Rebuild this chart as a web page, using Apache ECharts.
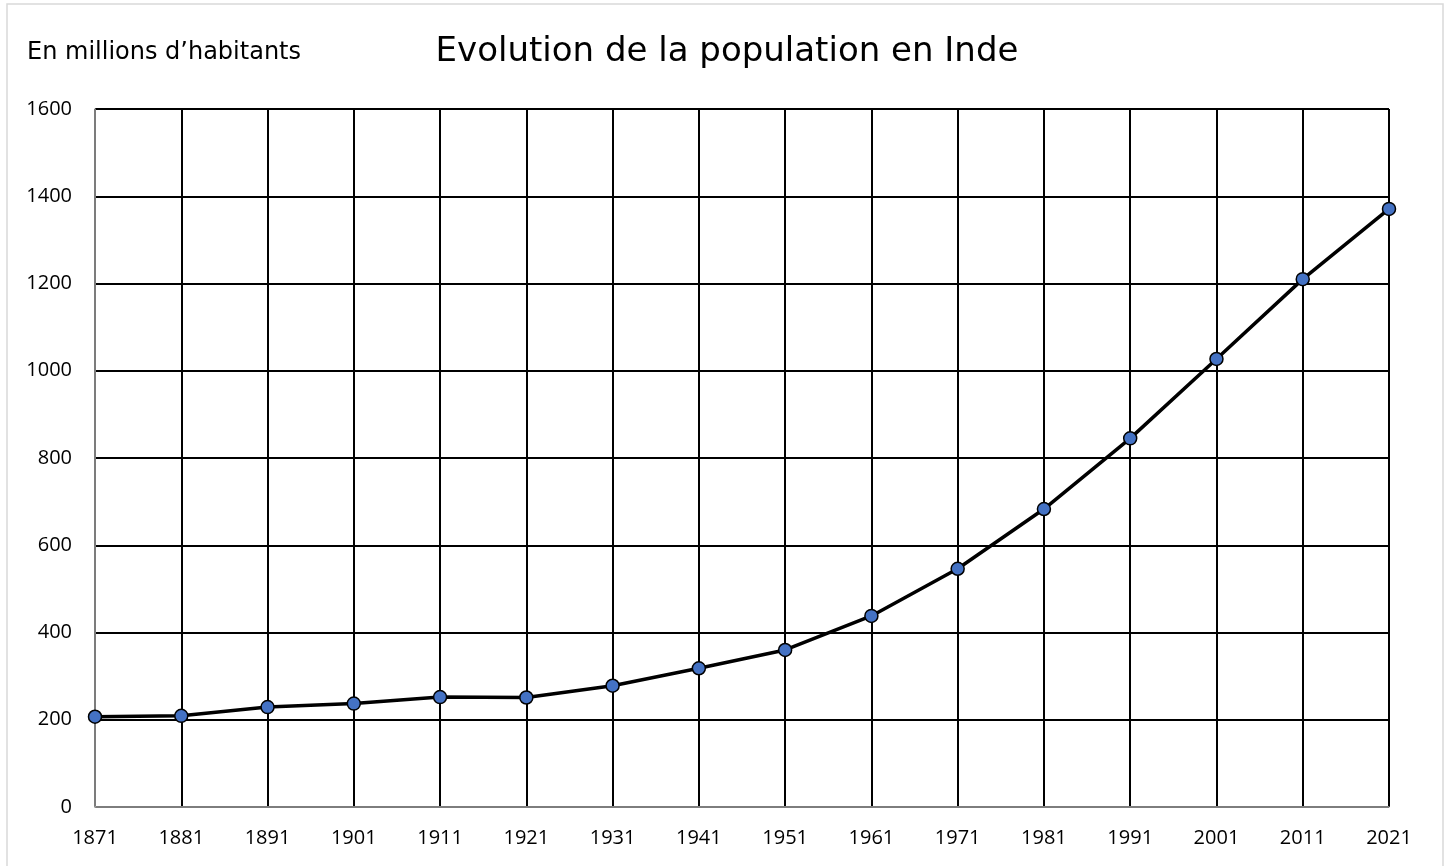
<!DOCTYPE html>
<html>
<head>
<meta charset="utf-8">
<title>Evolution de la population en Inde</title>
<script src="https://cdn.jsdelivr.net/npm/echarts@6/dist/echarts.min.js"></script>
<style>
  html, body { margin: 0; padding: 0; background: #fff; }
  #chart { width: 1451px; height: 866px; }
</style>
</head>
<body>
<div id="chart"></div>
<script>
// data
var annees = ['1871', '1881', '1891', '1901', '1911', '1921', '1931', '1941',
              '1951', '1961', '1971', '1981', '1991', '2001', '2011', '2021'];
var population = [207, 209, 229, 237, 252, 251, 278, 318,
                  360, 438, 546, 683, 845, 1027, 1210, 1371];
var yTicks = [0, 200, 400, 600, 800, 1000, 1200, 1400, 1600];

var chart = echarts.init(document.getElementById('chart'));

var option = {
    backgroundColor: '#fff',
    animation: false,
    title: [
        {
            text: 'Evolution de la population en Inde',
            left: 722, top: 30, textAlign: 'center',
            textStyle: { fontFamily: 'DejaVu Sans', fontSize: 34, fontWeight: 'normal', color: '#000' }
        },
        {
            text: 'En millions d\u2019habitants',
            left: 22, top: 36,
            textStyle: { fontFamily: 'DejaVu Sans', fontSize: 24, fontWeight: 'normal', color: '#000' }
        }
    ],
    graphic: [{
        type: 'rect',
        shape: { x: 7, y: 4, width: 1436, height: 880 },
        style: { fill: 'none', stroke: '#d9d9d9', lineWidth: 1.5 },
        silent: true
    }],
    grid: { left: 95, right: 62, top: 109, bottom: 59 },
    xAxis: {
        type: 'category',
        data: annees,
        boundaryGap: false,
        axisLine: { show: true, lineStyle: { color: '#a6a6a6', width: 1.5 } },
        axisTick: { show: false },
        splitLine: { show: true, lineStyle: { color: '#000', width: 2 } },
        axisLabel: { fontFamily: 'Open Sans', fontSize: 20, color: '#000', margin: 21, interval: 0 }
    },
    yAxis: {
        type: 'value',
        min: yTicks[0],
        max: yTicks[yTicks.length - 1],
        interval: 200,
        axisLine: { show: true, lineStyle: { color: '#a6a6a6', width: 1.5 } },
        axisTick: { show: false },
        splitLine: { show: true, lineStyle: { color: '#000', width: 2 } },
        axisLabel: {
            fontFamily: 'Open Sans', fontSize: 20, color: '#000', margin: 23,
            formatter: function (v) { return String(v); }
        }
    },
    series: [{
        name: 'Population',
        type: 'line',
        data: population,
        symbol: 'circle',
        symbolSize: 13,
        lineStyle: { color: '#000', width: 3.5 },
        itemStyle: { color: '#4472c4', borderColor: '#000', borderWidth: 1.5 }
    }]
};

chart.setOption(option);
</script>
</body>
</html>
